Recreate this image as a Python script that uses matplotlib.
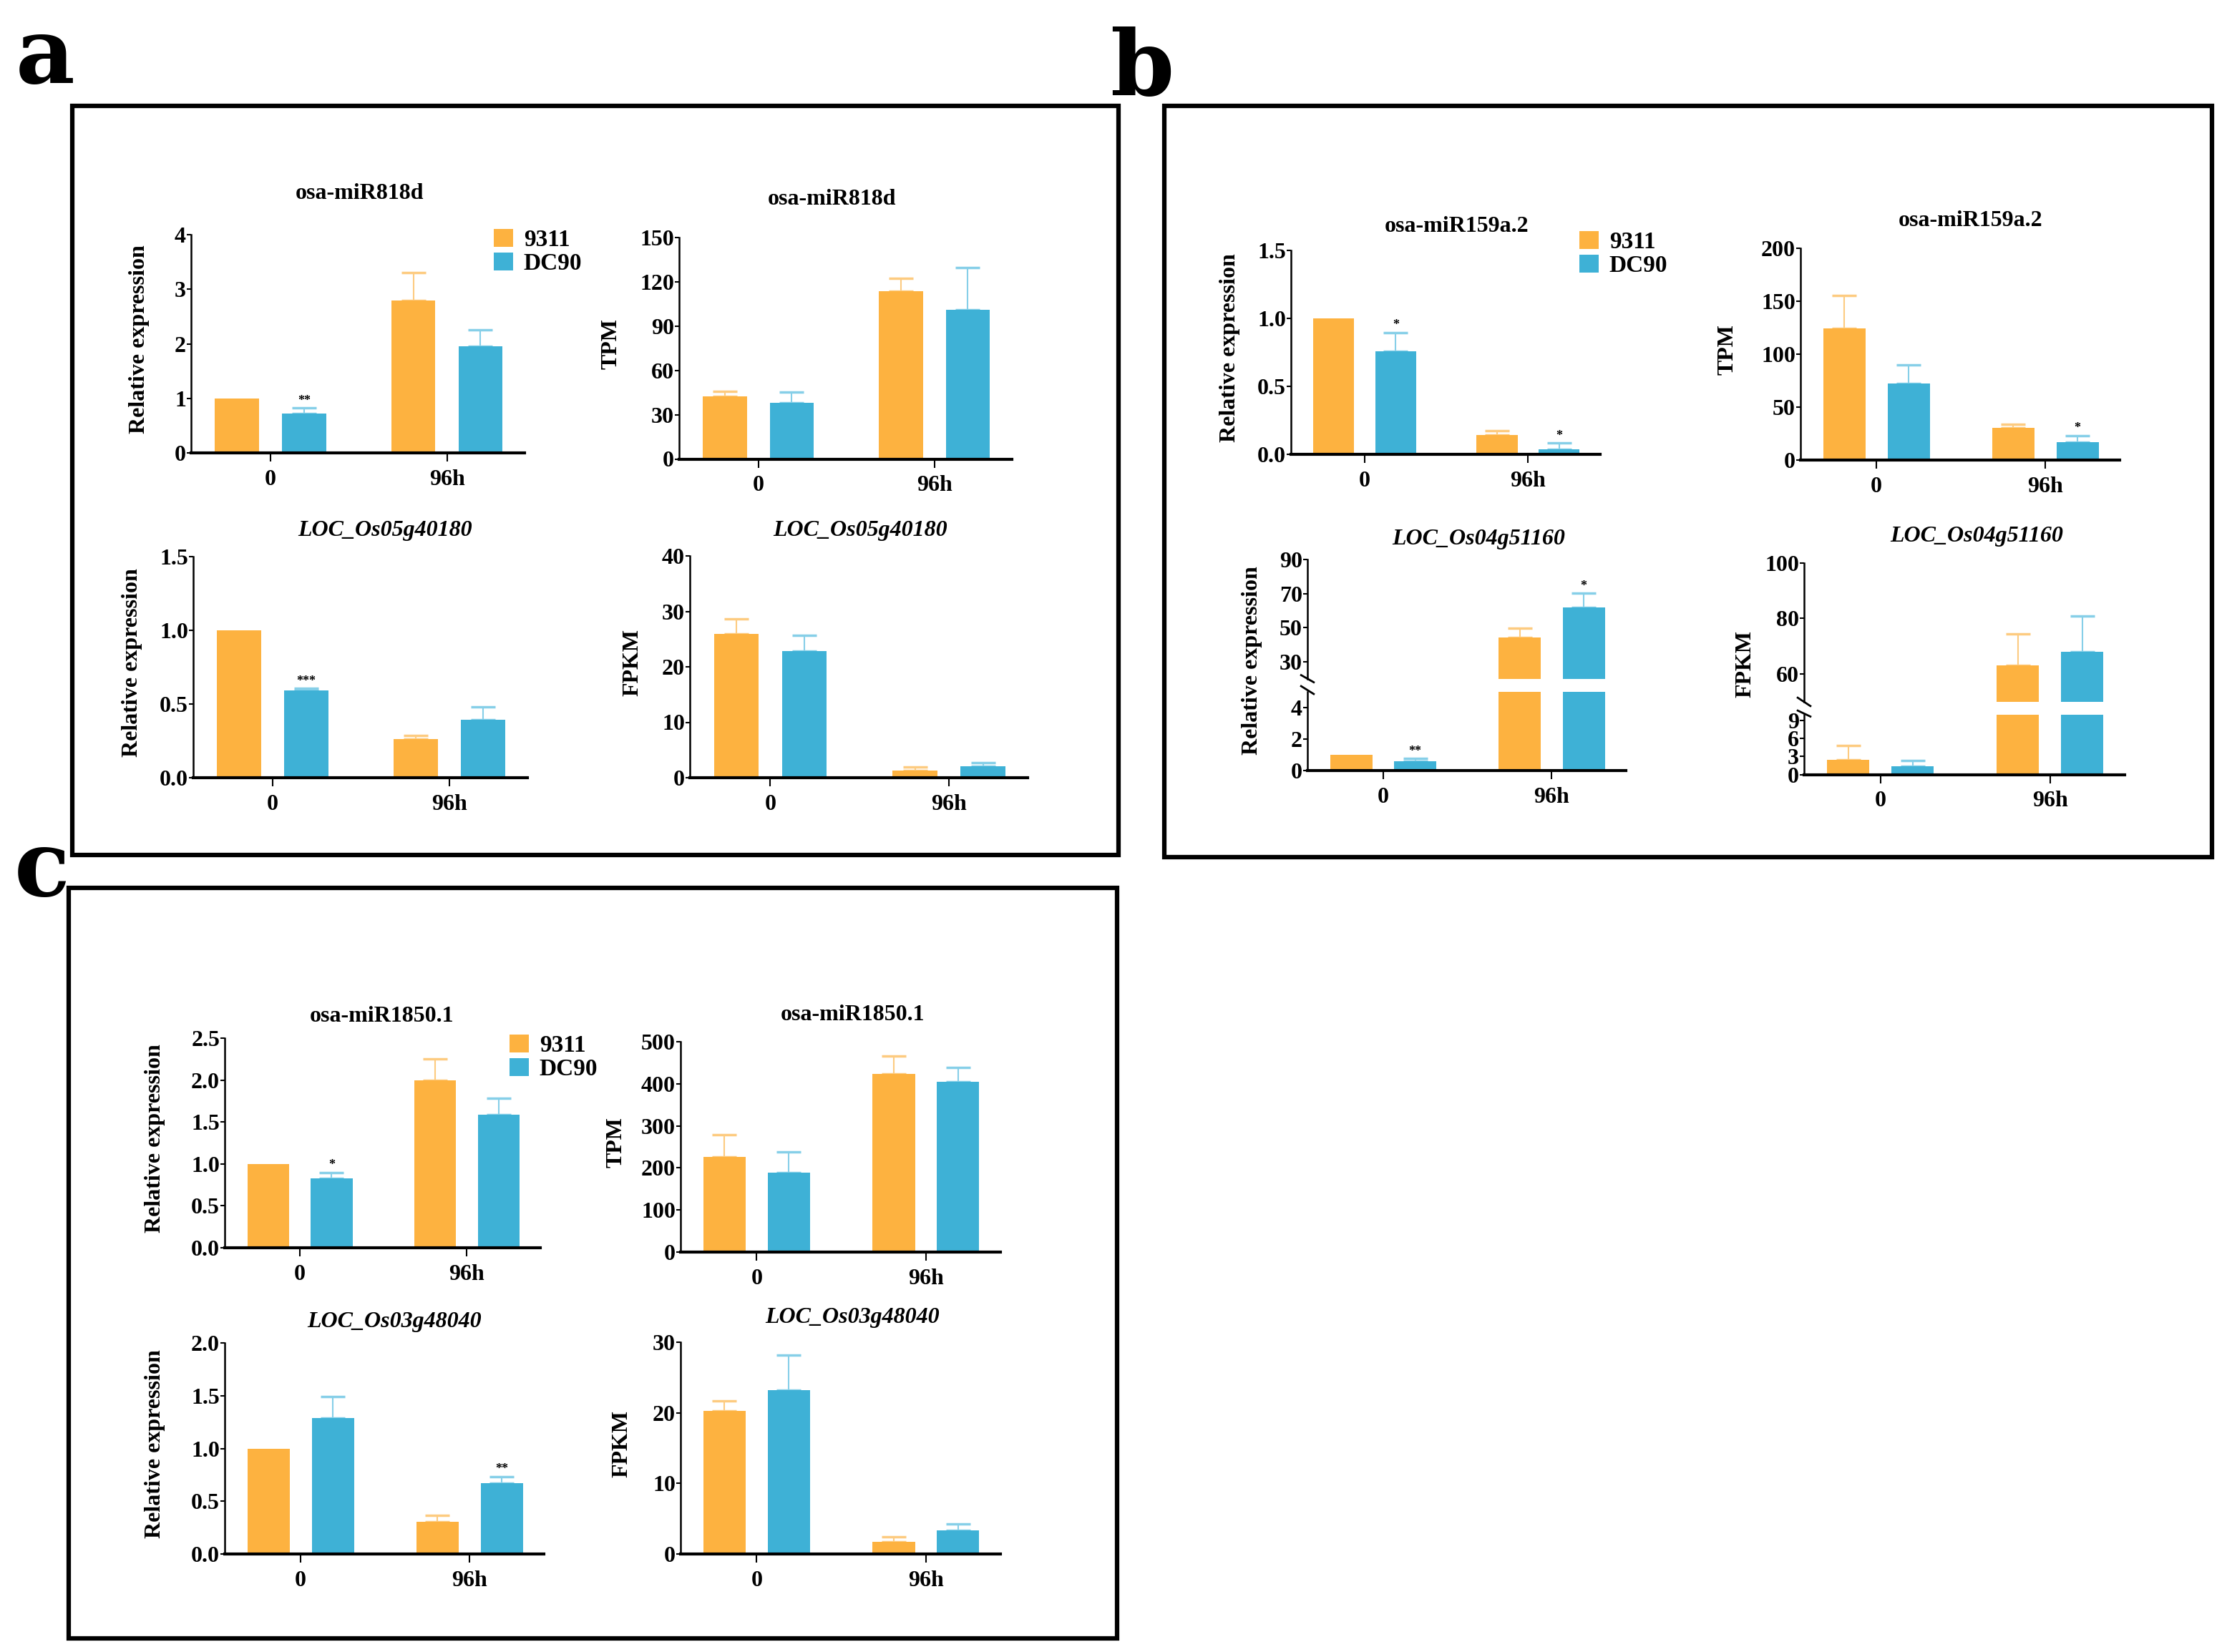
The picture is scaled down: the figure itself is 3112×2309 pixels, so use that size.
import numpy as np
import matplotlib
matplotlib.use('Agg')
import matplotlib.pyplot as plt
from matplotlib import rcParams
from matplotlib.patches import Rectangle

rcParams.update({'font.family': 'Liberation Serif', 'font.weight': 'bold',
                 'axes.labelweight': 'bold', 'font.size': 23})

groups = ['0', '96h']
strains = ['9311', 'DC90']

# panel a : osa-miR818d / LOC_Os05g40180
a_mir_qpcr_9311 = [1.0, 2.79]
a_mir_qpcr_9311_err = [0, 0.51]
a_mir_qpcr_dc90 = [0.72, 1.96]
a_mir_qpcr_dc90_err = [0.10, 0.29]
a_mir_qpcr_sig = ['**', '']
a_mir_tpm_9311 = [42.6, 113.7]
a_mir_tpm_9311_err = [3.3, 8.8]
a_mir_tpm_dc90 = [37.9, 101.0]
a_mir_tpm_dc90_err = [7.5, 28.7]
a_loc_qpcr_9311 = [1.0, 0.264]
a_loc_qpcr_9311_err = [0, 0.024]
a_loc_qpcr_dc90 = [0.594, 0.394]
a_loc_qpcr_dc90_err = [0.013, 0.087]
a_loc_qpcr_sig = ['***', '']
a_loc_fpkm_9311 = [25.9, 1.33]
a_loc_fpkm_9311_err = [2.8, 0.59]
a_loc_fpkm_dc90 = [22.9, 2.07]
a_loc_fpkm_dc90_err = [2.8, 0.59]

# panel b : osa-miR159a.2 / LOC_Os04g51160
b_mir_qpcr_9311 = [1.0, 0.141]
b_mir_qpcr_9311_err = [0, 0.035]
b_mir_qpcr_dc90 = [0.756, 0.035]
b_mir_qpcr_dc90_err = [0.141, 0.047]
b_mir_qpcr_sig = ['*', '*']
b_mir_tpm_9311 = [124.5, 30.2]
b_mir_tpm_9311_err = [31.0, 3.6]
b_mir_tpm_dc90 = [72.5, 17.2]
b_mir_tpm_dc90_err = [17.5, 6.1]
b_mir_tpm_sig = ['', '*']
b_loc_qpcr_9311 = [1.0, 44.2]
b_loc_qpcr_9311_err = [0, 5.3]
b_loc_qpcr_dc90 = [0.58, 61.8]
b_loc_qpcr_dc90_err = [0.17, 8.4]
b_loc_qpcr_sig = ['**', '*']
b_loc_fpkm_9311 = [2.41, 63.0]
b_loc_fpkm_9311_err = [2.5, 11.5]
b_loc_fpkm_dc90 = [1.37, 67.9]
b_loc_fpkm_dc90_err = [1.0, 12.9]

# panel c : osa-miR1850.1 / LOC_Os03g48040
c_mir_qpcr_9311 = [1.0, 2.0]
c_mir_qpcr_9311_err = [0, 0.25]
c_mir_qpcr_dc90 = [0.825, 1.587]
c_mir_qpcr_dc90_err = [0.072, 0.2]
c_mir_qpcr_sig = ['*', '']
c_mir_tpm_9311 = [226, 424]
c_mir_tpm_9311_err = [53, 42]
c_mir_tpm_dc90 = [188, 405]
c_mir_tpm_dc90_err = [50, 33]
c_loc_qpcr_9311 = [1.0, 0.307]
c_loc_qpcr_9311_err = [0, 0.057]
c_loc_qpcr_dc90 = [1.29, 0.668]
c_loc_qpcr_dc90_err = [0.2, 0.065]
c_loc_qpcr_sig = ['', '**']
c_loc_fpkm_9311 = [20.25, 1.7]
c_loc_fpkm_9311_err = [1.45, 0.76]
c_loc_fpkm_dc90 = [23.2, 3.3]
c_loc_fpkm_dc90_err = [5.0, 1.0]

ORANGE = '#FDB240'
BLUE = '#3EB1D6'
ORANGE_E = '#FDCB80'
BLUE_E = '#86CFE8'

W, H = 3112, 2309
width = 0.25
off = 0.19

fig = plt.figure(figsize=(W / 100, H / 100), dpi=100)


def px_rect(x0, x1, ytop, ybot):
    return [x0 / W, 1 - ybot / H, (x1 - x0) / W, (ybot - ytop) / H]


def style(ax, xaxis=True):
    ax.spines['top'].set_visible(False)
    ax.spines['right'].set_visible(False)
    ax.spines['left'].set_linewidth(1.8)
    ax.spines['bottom'].set_linewidth(3)
    ax.tick_params(axis='y', direction='out', length=4, width=1.5, pad=1, labelsize=23)
    ax.set_xlim(-0.45, 1.44)
    if xaxis:
        ax.set_xticks(np.arange(len(groups)))
        ax.set_xticklabels(groups)
        ax.tick_params(axis='x', direction='out', length=8.5, width=1.5, pad=8, labelsize=23)
    else:
        ax.spines['bottom'].set_visible(False)
        ax.set_xticks([])


def bars(ax, v1, e1, v2, e2, sig):
    x = np.arange(len(groups))
    r1 = ax.bar(x - off, v1, width, color=ORANGE, zorder=2, label=strains[0])
    r2 = ax.bar(x + off, v2, width, color=BLUE, zorder=2, label=strains[1])
    for xs, v, e, c in ((x - off, v1, e1, ORANGE_E), (x + off, v2, e2, BLUE_E)):
        for xi, vi, ei in zip(xs, v, e):
            if ei > 0:
                ax.errorbar(xi, vi, yerr=[[0], [ei]], fmt='none', ecolor=c,
                            elinewidth=1.5, capsize=12, capthick=2.5, zorder=1)
    if sig:
        for xi, vi, ei, s in zip(x + off, v2, e2, sig):
            if s:
                ax.annotate(s, (xi, vi + ei), xytext=(0, 1), textcoords='offset points',
                            ha='center', va='bottom', fontsize=13)
    return r1, r2


def panel(rect, v1, e1, v2, e2, ylim, yticks, fmt, ylabel, lab_x, title, title_xy,
          italic=False, sig=None):
    ax = fig.add_axes(px_rect(*rect))
    r = bars(ax, v1, e1, v2, e2, sig)
    style(ax)
    ax.set_ylim(ylim)
    ax.set_yticks(yticks)
    ax.set_yticklabels([fmt.format(t) for t in yticks])
    ax.set_ylabel(ylabel, fontsize=23)
    ax.yaxis.set_label_coords(lab_x / W, 1 - ((rect[2] + rect[3]) / 2 - 6) / H,
                              transform=fig.transFigure)
    fig.text(title_xy[0] / W, 1 - title_xy[1] / H, title, ha='center', va='center',
             fontsize=23, style='italic' if italic else 'normal')
    return ax, r


def broken(x0, x1, up, low, v1, e1, v2, e2, up_lim, up_ticks, low_lim, low_ticks,
           ylabel, lab_xy, title, title_xy, sig=None):
    axu = fig.add_axes(px_rect(x0, x1, up[0], up[1]))
    axl = fig.add_axes(px_rect(x0, x1, low[0], low[1]))
    for ax in (axu, axl):
        bars(ax, v1, e1, v2, e2, sig)
    style(axu, xaxis=False)
    style(axl)
    axu.set_ylim(up_lim)
    axu.set_yticks(up_ticks)
    axl.set_ylim(low_lim)
    axl.set_yticks(low_ticks)
    # break marks on the y axis
    d = 0.022
    axu.plot([-d * 0.9, d * 0.9], [0.03, -0.03], transform=axu.transAxes, color='k',
             lw=2, clip_on=False)
    axl.plot([-d * 0.9, d * 0.9], [1.07, 0.97], transform=axl.transAxes, color='k',
             lw=2, clip_on=False)
    fig.text(lab_xy[0] / W, 1 - lab_xy[1] / H, ylabel, rotation=90, ha='center',
             va='center', fontsize=23)
    fig.text(title_xy[0] / W, 1 - title_xy[1] / H, title, ha='center', va='center',
             fontsize=23, style='italic')


# ---- panel a
ax, r = panel((267, 733, 328, 633), a_mir_qpcr_9311, a_mir_qpcr_9311_err,
              a_mir_qpcr_dc90, a_mir_qpcr_dc90_err, (0, 4), [0, 1, 2, 3, 4], '{:g}',
              'Relative expression', 209, 'osa-miR818d', (502, 270), sig=a_mir_qpcr_sig)
ax.legend(handles=r, loc='upper left', bbox_to_anchor=(690 / W, 1 - 320 / H),
          bbox_transform=fig.transFigure, frameon=False, fontsize=24, handlelength=0.8,
          handleheight=0.78, handletextpad=0.45, labelspacing=0.05, borderpad=0,
          borderaxespad=0)
panel((949, 1414, 332, 641.5), a_mir_tpm_9311, a_mir_tpm_9311_err,
      a_mir_tpm_dc90, a_mir_tpm_dc90_err, (0, 150), [0, 30, 60, 90, 120, 150], '{:g}',
      'TPM', 869, 'osa-miR818d', (1163, 278))
panel((270, 737, 778, 1087), a_loc_qpcr_9311, a_loc_qpcr_9311_err,
      a_loc_qpcr_dc90, a_loc_qpcr_dc90_err, (0, 1.5), [0, 0.5, 1.0, 1.5], '{:.1f}',
      'Relative expression', 199, 'LOC_Os05g40180', (538, 742), italic=True,
      sig=a_loc_qpcr_sig)
panel((964, 1436, 777, 1087), a_loc_fpkm_9311, a_loc_fpkm_9311_err,
      a_loc_fpkm_dc90, a_loc_fpkm_dc90_err, (0, 40), [0, 10, 20, 30, 40], '{:g}',
      'FPKM', 898, 'LOC_Os05g40180', (1202, 741), italic=True)

# ---- panel b
ax, r = panel((1804, 2236, 350, 635), b_mir_qpcr_9311, b_mir_qpcr_9311_err,
              b_mir_qpcr_dc90, b_mir_qpcr_dc90_err, (0, 1.5), [0, 0.5, 1.0, 1.5], '{:.1f}',
              'Relative expression', 1733, 'osa-miR159a.2', (2036, 316), sig=b_mir_qpcr_sig)
ax.legend(handles=r, loc='upper left', bbox_to_anchor=(2207 / W, 1 - 323 / H),
          bbox_transform=fig.transFigure, frameon=False, fontsize=24, handlelength=0.8,
          handleheight=0.78, handletextpad=0.45, labelspacing=0.05, borderpad=0,
          borderaxespad=0)
panel((2516, 2962, 347, 643), b_mir_tpm_9311, b_mir_tpm_9311_err,
      b_mir_tpm_dc90, b_mir_tpm_dc90_err, (0, 200), [0, 50, 100, 150, 200], '{:g}',
      'TPM', 2429, 'osa-miR159a.2', (2754, 308), sig=b_mir_tpm_sig)
broken(1827, 2272, (782, 948.6), (966.7, 1076.7), b_loc_qpcr_9311, b_loc_qpcr_9311_err,
       b_loc_qpcr_dc90, b_loc_qpcr_dc90_err, (20, 90), [30, 50, 70, 90], (0, 5), [0, 2, 4],
       'Relative expression', (1749, 923), 'LOC_Os04g51160', (2066, 753),
       sig=b_loc_qpcr_sig)
broken(2521, 2969, (786.6, 981), (999, 1082.5), b_loc_fpkm_9311, b_loc_fpkm_9311_err,
       b_loc_fpkm_dc90, b_loc_fpkm_dc90_err, (50, 100), [60, 80, 100], (0, 10), [0, 3, 6, 9],
       'FPKM', (2439, 928), 'LOC_Os04g51160', (2762, 749))

# ---- panel c
ax, r = panel((314, 755, 1451, 1744), c_mir_qpcr_9311, c_mir_qpcr_9311_err,
              c_mir_qpcr_dc90, c_mir_qpcr_dc90_err, (0, 2.5), [0, 0.5, 1.0, 1.5, 2.0, 2.5],
              '{:.1f}', 'Relative expression', 231, 'osa-miR1850.1', (534, 1420),
              sig=c_mir_qpcr_sig)
ax.legend(handles=r, loc='upper left', bbox_to_anchor=(712 / W, 1 - 1446 / H),
          bbox_transform=fig.transFigure, frameon=False, fontsize=24, handlelength=0.8,
          handleheight=0.78, handletextpad=0.45, labelspacing=0.05, borderpad=0,
          borderaxespad=0)
panel((951, 1398, 1456, 1750), c_mir_tpm_9311, c_mir_tpm_9311_err,
      c_mir_tpm_dc90, c_mir_tpm_dc90_err, (0, 500), [0, 100, 200, 300, 400, 500], '{:g}',
      'TPM', 876, 'osa-miR1850.1', (1191, 1419))
panel((314, 760, 1877, 2172), c_loc_qpcr_9311, c_loc_qpcr_9311_err,
      c_loc_qpcr_dc90, c_loc_qpcr_dc90_err, (0, 2.0), [0, 0.5, 1.0, 1.5, 2.0], '{:.1f}',
      'Relative expression', 231, 'LOC_Os03g48040', (551, 1848), italic=True,
      sig=c_loc_qpcr_sig)
panel((951, 1398, 1876, 2172), c_loc_fpkm_9311, c_loc_fpkm_9311_err,
      c_loc_fpkm_dc90, c_loc_fpkm_dc90_err, (0, 30), [0, 10, 20, 30], '{:g}',
      'FPKM', 883, 'LOC_Os03g48040', (1191, 1841), italic=True)

# panel frames and letters
for (x0, x1, y0, y1) in [(101, 1563, 148, 1195), (1627, 3091, 148, 1198),
                         (96, 1561, 1241, 2290)]:
    fig.patches.append(Rectangle((x0 / W, 1 - y1 / H), (x1 - x0) / W, (y1 - y0) / H,
                                 transform=fig.transFigure, fill=False, lw=4.5,
                                 edgecolor='k'))
for (x, y, s) in [(22, 116, 'a'), (1551, 134, 'b'), (20, 1252, 'c')]:
    fig.text(x / W, 1 - y / H, s, fontsize=92, family='DejaVu Serif', weight='bold',
             ha='left', va='baseline')

fig.savefig('out.png', dpi=100)
